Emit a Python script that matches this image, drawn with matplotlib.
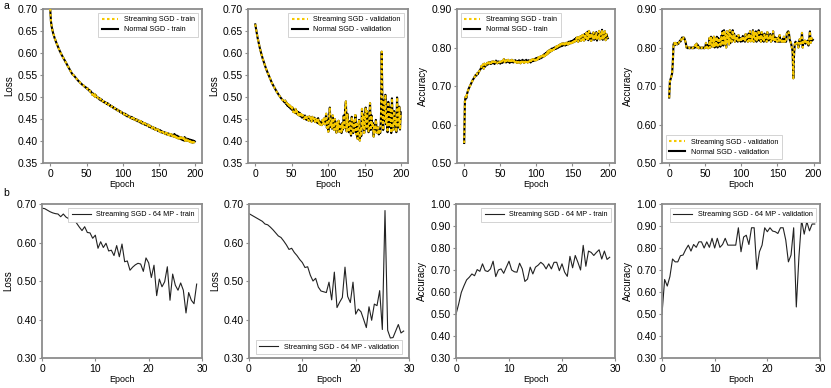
import numpy as np
import matplotlib
matplotlib.use("Agg")
import matplotlib.pyplot as plt
from matplotlib.ticker import FormatStrFormatter

plt.rcParams['font.family'] = ['Liberation Sans', 'DejaVu Sans']

# ---------------- data: row a (200 epochs) ----------------
epochs_a = np.arange(200)

train_loss_a = [
 0.700, 0.672, 0.660, 0.652, 0.645, 0.640, 0.634, 0.630, 0.625, 0.621,
 0.617, 0.613, 0.609, 0.605, 0.602, 0.598, 0.595, 0.592, 0.589, 0.586,
 0.583, 0.580, 0.577, 0.574, 0.571, 0.568, 0.565, 0.562, 0.559, 0.556,
 0.553, 0.551, 0.550, 0.548, 0.546, 0.544, 0.542, 0.540, 0.538, 0.536,
 0.535, 0.533, 0.531, 0.530, 0.528, 0.527, 0.526, 0.524, 0.523, 0.521,
 0.521, 0.518, 0.519, 0.515, 0.516, 0.512, 0.513, 0.509, 0.505, 0.508,
 0.503, 0.507, 0.500, 0.504, 0.499, 0.500, 0.497, 0.498, 0.494, 0.496,
 0.492, 0.494, 0.490, 0.491, 0.488, 0.489, 0.486, 0.487, 0.484, 0.486,
 0.482, 0.483, 0.480, 0.481, 0.478, 0.479, 0.476, 0.477, 0.474, 0.475,
 0.472, 0.473, 0.470, 0.471, 0.468, 0.469, 0.466, 0.467, 0.464, 0.465,
 0.462, 0.463, 0.460, 0.462, 0.458, 0.460, 0.456, 0.458, 0.455, 0.456,
 0.453, 0.455, 0.451, 0.454, 0.450, 0.452, 0.448, 0.450, 0.447, 0.449,
 0.445, 0.447, 0.444, 0.446, 0.442, 0.445, 0.440, 0.443, 0.439, 0.441,
 0.437, 0.440, 0.436, 0.438, 0.434, 0.437, 0.432, 0.435, 0.431, 0.433,
 0.429, 0.432, 0.428, 0.430, 0.426, 0.429, 0.425, 0.427, 0.423, 0.426,
 0.422, 0.425, 0.420, 0.423, 0.419, 0.421, 0.418, 0.420, 0.416, 0.419,
 0.415, 0.418, 0.414, 0.417, 0.413, 0.416, 0.412, 0.415, 0.411, 0.414,
 0.410, 0.416, 0.409, 0.413, 0.407, 0.412, 0.406, 0.410, 0.405, 0.409,
 0.404, 0.408, 0.402, 0.407, 0.401, 0.409, 0.400, 0.406, 0.401, 0.405,
 0.400, 0.404, 0.398, 0.403, 0.397, 0.402, 0.396, 0.401, 0.397, 0.399]

val_loss_a = [
 0.665, 0.655, 0.645, 0.636, 0.628, 0.620, 0.613, 0.606, 0.600, 0.594,
 0.588, 0.583, 0.578, 0.573, 0.568, 0.563, 0.559, 0.555, 0.551, 0.547,
 0.543, 0.539, 0.535, 0.531, 0.528, 0.525, 0.522, 0.519, 0.516, 0.513,
 0.510, 0.508, 0.505, 0.503, 0.500, 0.498, 0.496, 0.494, 0.492, 0.490,
 0.488, 0.492, 0.484, 0.487, 0.480, 0.484, 0.477, 0.481, 0.474, 0.478,
 0.471, 0.476, 0.466, 0.470, 0.464, 0.473, 0.463, 0.468, 0.460, 0.466,
 0.458, 0.464, 0.456, 0.461, 0.453, 0.459, 0.455, 0.450, 0.458, 0.452,
 0.448, 0.455, 0.450, 0.446, 0.456, 0.448, 0.452, 0.444, 0.455, 0.449,
 0.446, 0.453, 0.443, 0.450, 0.447, 0.441, 0.452, 0.439, 0.445, 0.437,
 0.442, 0.436, 0.448, 0.440, 0.451, 0.438, 0.446, 0.462, 0.430, 0.448,
 0.421, 0.455, 0.476, 0.432, 0.445, 0.428, 0.458, 0.437, 0.425, 0.450,
 0.433, 0.419, 0.442, 0.427, 0.446, 0.421, 0.438, 0.432, 0.418, 0.441,
 0.426, 0.458, 0.430, 0.475, 0.490, 0.422, 0.462, 0.438, 0.420, 0.445,
 0.426, 0.412, 0.455, 0.430, 0.418, 0.446, 0.424, 0.459, 0.415, 0.438,
 0.405, 0.431, 0.448, 0.401, 0.426, 0.411, 0.473, 0.429, 0.460, 0.418,
 0.442, 0.476, 0.428, 0.468, 0.435, 0.420, 0.447, 0.486, 0.425, 0.458,
 0.432, 0.441, 0.410, 0.436, 0.420, 0.448, 0.427, 0.418, 0.431, 0.415,
 0.422, 0.418, 0.455, 0.603, 0.478, 0.425, 0.492, 0.446, 0.505, 0.438,
 0.462, 0.420, 0.489, 0.445, 0.432, 0.476, 0.418, 0.497, 0.442, 0.425,
 0.468, 0.436, 0.452, 0.420, 0.499, 0.445, 0.431, 0.478, 0.426, 0.465]

train_acc_a = [
 0.552, 0.660, 0.672, 0.668, 0.680, 0.686, 0.692, 0.696, 0.700, 0.704,
 0.708, 0.712, 0.716, 0.719, 0.722, 0.726, 0.729, 0.727, 0.733, 0.731,
 0.736, 0.739, 0.742, 0.745, 0.752, 0.748, 0.756, 0.745, 0.758, 0.750,
 0.757, 0.754, 0.760, 0.756, 0.762, 0.758, 0.761, 0.757, 0.763, 0.759,
 0.764, 0.760, 0.757, 0.762, 0.766, 0.761, 0.759, 0.764, 0.760, 0.763,
 0.758, 0.762, 0.765, 0.760, 0.763, 0.770, 0.762, 0.766, 0.761, 0.767,
 0.763, 0.768, 0.764, 0.760, 0.766, 0.762, 0.768, 0.764, 0.761, 0.766,
 0.762, 0.767, 0.763, 0.760, 0.765, 0.761, 0.767, 0.763, 0.759, 0.766,
 0.762, 0.768, 0.764, 0.760, 0.766, 0.762, 0.768, 0.763, 0.761, 0.767,
 0.763, 0.766, 0.761, 0.768, 0.764, 0.770, 0.765, 0.769, 0.766, 0.772,
 0.767, 0.773, 0.769, 0.775, 0.770, 0.776, 0.772, 0.778, 0.774, 0.780,
 0.776, 0.783, 0.778, 0.786, 0.781, 0.789, 0.784, 0.792, 0.787, 0.794,
 0.790, 0.797, 0.792, 0.798, 0.794, 0.800, 0.796, 0.802, 0.797, 0.804,
 0.799, 0.806, 0.801, 0.808, 0.803, 0.810, 0.804, 0.811, 0.806, 0.810,
 0.805, 0.812, 0.807, 0.813, 0.808, 0.815, 0.810, 0.816, 0.811, 0.817,
 0.812, 0.819, 0.814, 0.822, 0.816, 0.825, 0.818, 0.827, 0.815, 0.826,
 0.819, 0.829, 0.817, 0.831, 0.820, 0.833, 0.818, 0.835, 0.821, 0.838,
 0.822, 0.841, 0.819, 0.843, 0.824, 0.836, 0.817, 0.832, 0.825, 0.839,
 0.820, 0.834, 0.822, 0.840, 0.818, 0.831, 0.826, 0.843, 0.821, 0.836,
 0.824, 0.846, 0.820, 0.838, 0.827, 0.842, 0.819, 0.835, 0.828, 0.824]

val_acc_a = [
 0.670, 0.712, 0.718, 0.725, 0.732, 0.760, 0.808, 0.812, 0.806, 0.812,
 0.810, 0.808, 0.812, 0.810, 0.814, 0.818, 0.816, 0.822, 0.826, 0.822,
 0.826, 0.824, 0.818, 0.812, 0.800, 0.800, 0.798, 0.800, 0.798, 0.800,
 0.798, 0.800, 0.798, 0.800, 0.798, 0.800, 0.806, 0.800, 0.810, 0.800,
 0.806, 0.798, 0.800, 0.798, 0.800, 0.798, 0.800, 0.798, 0.800, 0.798,
 0.800, 0.812, 0.800, 0.806, 0.798, 0.800, 0.825, 0.800, 0.828, 0.806,
 0.825, 0.802, 0.828, 0.800, 0.822, 0.810, 0.828, 0.800, 0.825, 0.812,
 0.820, 0.802, 0.830, 0.812, 0.843, 0.805, 0.845, 0.810, 0.835, 0.800,
 0.842, 0.815, 0.838, 0.808, 0.845, 0.812, 0.836, 0.815, 0.845, 0.820,
 0.836, 0.815, 0.825, 0.818, 0.830, 0.815, 0.832, 0.818, 0.825, 0.815,
 0.822, 0.816, 0.830, 0.818, 0.824, 0.815, 0.835, 0.820, 0.828, 0.815,
 0.836, 0.818, 0.842, 0.816, 0.830, 0.820, 0.845, 0.815, 0.838, 0.822,
 0.842, 0.815, 0.836, 0.820, 0.845, 0.818, 0.832, 0.815, 0.840, 0.818,
 0.830, 0.815, 0.836, 0.822, 0.828, 0.815, 0.840, 0.818, 0.825, 0.820,
 0.835, 0.815, 0.830, 0.818, 0.842, 0.820, 0.828, 0.815, 0.825, 0.818,
 0.815, 0.825, 0.815, 0.832, 0.815, 0.818, 0.815, 0.822, 0.815, 0.828,
 0.815, 0.818, 0.815, 0.836, 0.840, 0.842, 0.836, 0.820, 0.815, 0.810,
 0.800, 0.790, 0.720, 0.782, 0.808, 0.815, 0.812, 0.810, 0.812, 0.800,
 0.815, 0.822, 0.810, 0.815, 0.838, 0.800, 0.815, 0.812, 0.818, 0.810,
 0.815, 0.812, 0.818, 0.805, 0.822, 0.842, 0.812, 0.825, 0.818, 0.820]

# ---------------- data: row b (64 MP, half-epoch steps) ----------------
epochs_b = np.arange(59) * 0.5

train_loss_b = [
 0.689, 0.688, 0.684, 0.680, 0.677, 0.675, 0.674, 0.667, 0.674, 0.666,
 0.662, 0.654, 0.660, 0.650, 0.640, 0.631, 0.641, 0.626, 0.625, 0.611,
 0.619, 0.585, 0.602, 0.587, 0.598, 0.578, 0.580, 0.566, 0.592, 0.563,
 0.596, 0.550, 0.552, 0.528, 0.536, 0.542, 0.546, 0.544, 0.525, 0.560,
 0.547, 0.509, 0.541, 0.462, 0.505, 0.485, 0.498, 0.537, 0.450, 0.518,
 0.489, 0.476, 0.495, 0.476, 0.417, 0.470, 0.450, 0.441, 0.492]

val_loss_b = [
 0.675, 0.671, 0.667, 0.663, 0.659, 0.655, 0.648, 0.646, 0.640, 0.633,
 0.625, 0.617, 0.613, 0.604, 0.594, 0.582, 0.585, 0.574, 0.566, 0.556,
 0.548, 0.535, 0.537, 0.515, 0.500, 0.507, 0.484, 0.474, 0.472, 0.470,
 0.497, 0.451, 0.523, 0.431, 0.445, 0.457, 0.536, 0.460, 0.444, 0.497,
 0.414, 0.427, 0.420, 0.400, 0.379, 0.433, 0.398, 0.440, 0.436, 0.475,
 0.374, 0.683, 0.372, 0.352, 0.353, 0.370, 0.387, 0.365, 0.370]

train_acc_b = [
 0.499, 0.545, 0.598, 0.628, 0.655, 0.667, 0.682, 0.674, 0.702, 0.694,
 0.728, 0.697, 0.693, 0.705, 0.740, 0.670, 0.700, 0.705, 0.685, 0.713,
 0.740, 0.700, 0.692, 0.690, 0.731, 0.705, 0.648, 0.659, 0.713, 0.682,
 0.713, 0.722, 0.735, 0.725, 0.705, 0.728, 0.705, 0.735, 0.735, 0.697,
 0.728, 0.690, 0.671, 0.762, 0.710, 0.766, 0.735, 0.700, 0.812, 0.717,
 0.786, 0.780, 0.766, 0.780, 0.792, 0.750, 0.786, 0.748, 0.758]

val_acc_b = [
 0.500, 0.657, 0.627, 0.670, 0.750, 0.737, 0.737, 0.765, 0.768, 0.793,
 0.813, 0.786, 0.816, 0.803, 0.828, 0.828, 0.800, 0.828, 0.803, 0.844,
 0.800, 0.844, 0.803, 0.816, 0.844, 0.813, 0.813, 0.813, 0.813, 0.892,
 0.783, 0.850, 0.858, 0.816, 0.892, 0.892, 0.703, 0.783, 0.813, 0.892,
 0.874, 0.892, 0.877, 0.874, 0.866, 0.892, 0.892, 0.836, 0.737, 0.768,
 0.892, 0.532, 0.760, 0.927, 0.863, 0.920, 0.878, 0.909, 0.909]

# ---------------- figure ----------------
W, H = 831, 388
fig = plt.figure(figsize=(W / 100, H / 100), dpi=100)

def ax_at(x0, y0, x1, y1):
    return fig.add_axes([x0 / W, 1 - y1 / H, (x1 - x0) / W, (y1 - y0) / H])

SPINE = '#8c8c8c'
YELLOW = '#f5c800'

def style(ax, ylabel):
    for s in ax.spines.values():
        s.set_color(SPINE)
        s.set_linewidth(1.3)
    ax.tick_params(labelsize=7.5, length=2.5, width=0.8, color=SPINE, pad=1.5)
    ax.set_xlabel('Epoch', fontsize=6.5, labelpad=1)
    ax.set_ylabel(ylabel, fontsize=7, labelpad=2)

def top_panel(ax, y, lab, ylim, yticks, loc):
    ax.plot(epochs_a, y, color='black', lw=1.5, label='Normal SGD - ' + lab, zorder=2)
    ax.plot(epochs_a, y, color=YELLOW, lw=1.5, ls=(0, (1.2, 1.2)),
            label='Streaming SGD - ' + lab, zorder=3)
    ax.set_xlim(-9.95, 208.95)
    ax.set_ylim(*ylim)
    ax.set_xticks([0, 50, 100, 150, 200])
    ax.set_yticks(yticks)
    ax.yaxis.set_major_formatter(FormatStrFormatter('%.2f'))
    h, l = ax.get_legend_handles_labels()
    leg = ax.legend(h[::-1], l[::-1], loc=loc, fontsize=5.2, handlelength=2.2,
                    borderpad=0.5, labelspacing=0.4, fancybox=False,
                    framealpha=1)
    leg.get_frame().set_edgecolor('#cccccc')
    leg.get_frame().set_linewidth(0.6)

def bottom_panel(ax, y, label, ylim, yticks, loc, anchor=None):
    ax.plot(epochs_b, y, color='#222222', lw=0.8, label=label)
    ax.set_xlim(0, 30)
    ax.set_ylim(*ylim)
    ax.set_xticks([0, 10, 20, 30])
    ax.set_yticks(yticks)
    ax.yaxis.set_major_formatter(FormatStrFormatter('%.2f'))
    kw = dict(loc=loc, fontsize=5.2, handlelength=2.6, borderpad=0.5,
              fancybox=False, framealpha=1)
    if anchor is not None:
        kw['bbox_to_anchor'] = anchor
    leg = ax.legend(**kw)
    leg.get_frame().set_edgecolor('#cccccc')
    leg.get_frame().set_linewidth(0.6)

loss_ticks_a = np.round(np.arange(0.35, 0.701, 0.05), 2)
acc_ticks_a = np.round(np.arange(0.5, 0.901, 0.1), 2)
loss_ticks_b = np.round(np.arange(0.3, 0.701, 0.1), 2)
acc_ticks_b = np.round(np.arange(0.3, 1.001, 0.1), 2)

# row a
a1 = ax_at(43, 9, 202, 163)
top_panel(a1, train_loss_a, 'train', (0.35, 0.70), loss_ticks_a, 'upper right')
style(a1, 'Loss')

a2 = ax_at(248, 9, 408, 163)
top_panel(a2, val_loss_a, 'validation', (0.35, 0.70), loss_ticks_a, 'upper right')
style(a2, 'Loss')

a3 = ax_at(457, 9, 615, 163)
top_panel(a3, train_acc_a, 'train', (0.50, 0.90), acc_ticks_a, 'upper left')
style(a3, 'Accuracy')

a4 = ax_at(662, 9, 820, 163)
top_panel(a4, val_acc_a, 'validation', (0.50, 0.90), acc_ticks_a, 'lower left')
style(a4, 'Accuracy')

# row b
b1 = ax_at(42, 204, 202, 358)
bottom_panel(b1, train_loss_b, 'Streaming SGD - 64 MP - train', (0.30, 0.70), loss_ticks_b, 'upper right')
style(b1, 'Loss')

b2 = ax_at(249, 204, 409, 358)
bottom_panel(b2, val_loss_b, 'Streaming SGD - 64 MP - validation', (0.30, 0.70), loss_ticks_b, 'lower center')
style(b2, 'Loss')

b3 = ax_at(456, 204, 615, 358)
bottom_panel(b3, train_acc_b, 'Streaming SGD - 64 MP - train', (0.30, 1.00), acc_ticks_b, 'upper right')
style(b3, 'Accuracy')

b4 = ax_at(662, 204, 820, 358)
bottom_panel(b4, val_acc_b, 'Streaming SGD - 64 MP - validation', (0.30, 1.00), acc_ticks_b, 'upper right')
style(b4, 'Accuracy')

fig.text(3 / W, 1 - 6 / H, 'a', fontsize=7.5, va='center', ha='left')
fig.text(3 / W, 1 - 193 / H, 'b', fontsize=7.5, va='center', ha='left')

fig.savefig('out.png', dpi=100, facecolor='white')
